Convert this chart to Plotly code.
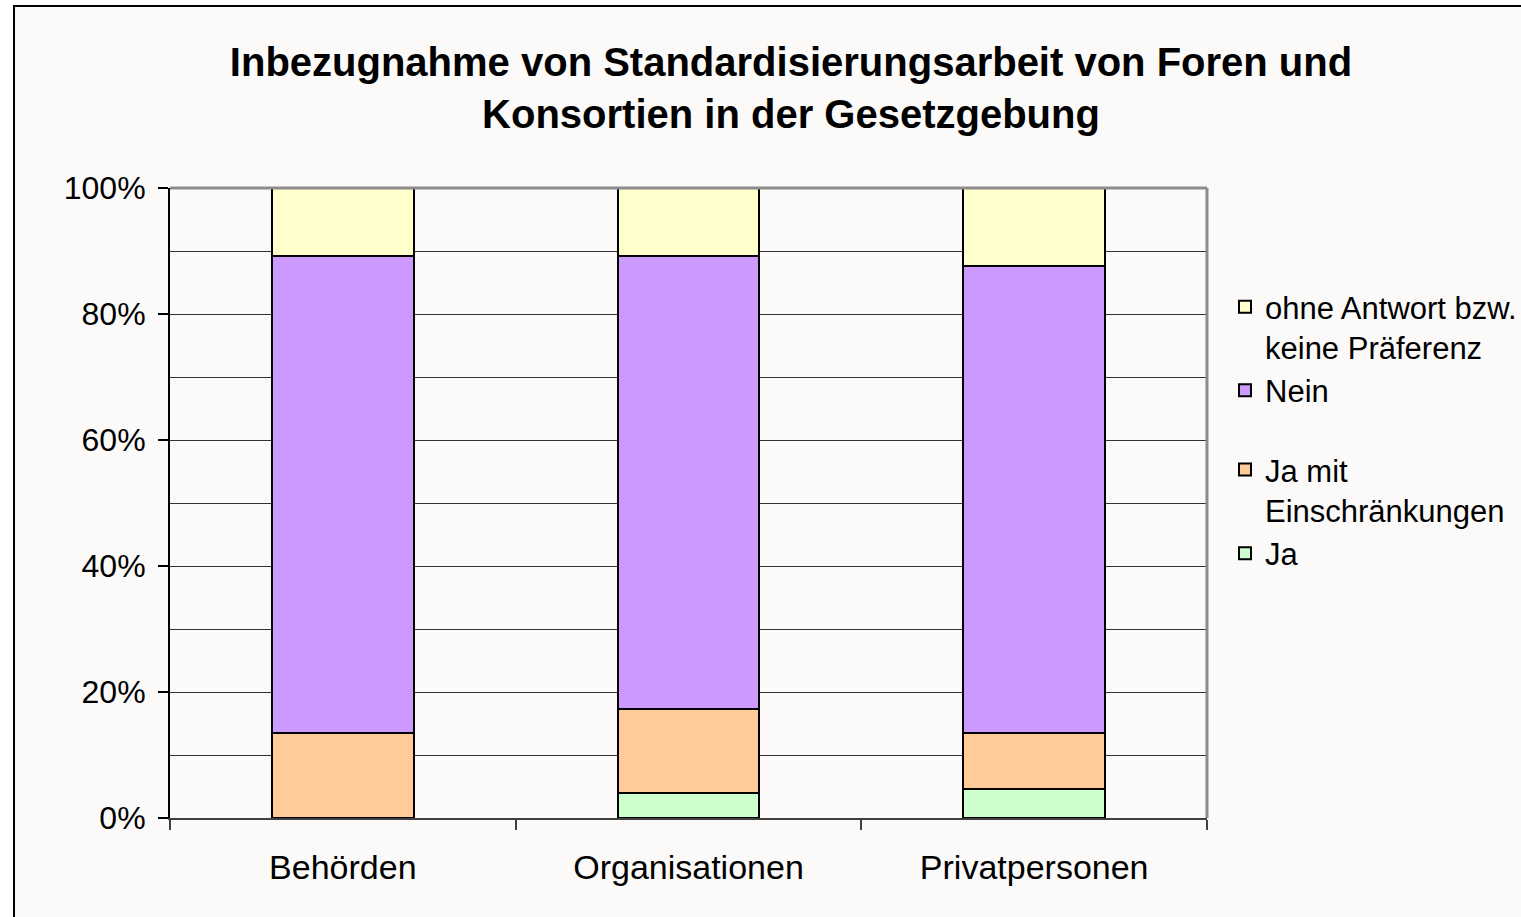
import plotly.graph_objects as go

categories = ["Behörden", "Organisationen", "Privatpersonen"]
ja = [0.0, 4.0, 4.6]
ja_mit = [13.5, 13.3, 8.9]
nein = [75.7, 71.9, 74.1]
ohne = [10.8, 10.8, 12.4]

series_names = ["Ja", "Ja mit<br>Einschränkungen", "Nein", "ohne Antwort bzw.<br>keine Präferenz"]
series_colors = ["#CCFFCC", "#FFCC99", "#CC99FF", "#FFFFCC"]
series_groups = ["b", "b", "a", "a"]
series_ranks = [4, 3, 2, 1]
y_ticks = [0, 20, 40, 60, 80, 100]
y_ticklabels = ["0%", "20%", "40%", "60%", "80%", "100%"]

FONT = "Liberation Sans, Arial, sans-serif"
BG = "#FBFAF8"

fig = go.Figure()
for name, vals, col, grp, rk in zip(series_names, [ja, ja_mit, nein, ohne], series_colors, series_groups, series_ranks):
    fig.add_trace(go.Bar(
        x=categories, y=vals, name=name, legendgroup=grp, legendrank=rk,
        marker=dict(color=col, line=dict(color="black", width=2)),
    ))

W, H = 1521, 917
# plot area in screen px
PX0, PY0, PX1, PY1 = 170, 188, 1207, 818
L, T = PX0, PY0
R = W - PX1
B = H - PY1
pw, ph = PX1 - PX0, PY1 - PY0

def px_x(p):
    return (p - PX0) / pw

def px_y(p):
    return (PY1 - p) / ph

fig.update_layout(
    width=W, height=H,
    barmode="stack", bargap=0.59,
    paper_bgcolor="white", plot_bgcolor=BG,
    margin=dict(l=L, r=R, t=T, b=B, autoexpand=False),
    font=dict(family=FONT, color="black"),
    title=dict(
        text="<b>Inbezugnahme von Standardisierungsarbeit von Foren und<br>Konsortien in der Gesetzgebung</b>",
        x=791 / W, xanchor="center", xref="container",
        y=1 - 76 / H, yanchor="top", yref="container",
        font=dict(size=40, family=FONT, color="black"),
    ),
    legend=dict(
        x=px_x(1225), xanchor="left", y=px_y(280), yanchor="top",
        traceorder="grouped", tracegroupgap=36, valign="top",
        font=dict(size=31, family=FONT, color="black"),
        bgcolor="rgba(0,0,0,0)",
    ),
    xaxis=dict(
        showline=True, linecolor="#404040", linewidth=2,
        ticks="outside", tickson="boundaries", ticklen=10, tickcolor="#404040", tickwidth=2,
        tickfont=dict(size=34, family=FONT, color="black"),
        ticklabelstandoff=18,
        showgrid=False,
    ),
    yaxis=dict(
        range=[0, 100], tickvals=y_ticks, ticktext=y_ticklabels,
        showline=True, linecolor="black", linewidth=2,
        ticks="outside", ticklen=10, tickcolor="black", tickwidth=2,
        tickfont=dict(size=32, family=FONT, color="black"),
        ticklabelstandoff=6,
        showgrid=True, gridcolor="#333333", gridwidth=1,
        minor=dict(dtick=10, showgrid=True, gridcolor="#333333", gridwidth=1, ticks=""),
        zeroline=False,
    ),
    shapes=[
        dict(type="rect", xref="paper", yref="paper", layer="below",
             x0=px_x(14), x1=px_x(1560), y0=px_y(960), y1=px_y(6),
             fillcolor=BG, line=dict(color="black", width=2)),
        dict(type="line", xref="paper", yref="paper", layer="above",
             x0=0, x1=1, y0=1, y1=1, line=dict(color="#8C8C8C", width=3)),
        dict(type="line", xref="paper", yref="paper", layer="above",
             x0=1, x1=1, y0=0, y1=1, line=dict(color="#8C8C8C", width=3)),
    ],
)

fig.write_html(
    "out.html",
    config={"displayModeBar": False},
    post_script="document.body.style.margin='0';document.body.style.overflow='hidden';",
)
